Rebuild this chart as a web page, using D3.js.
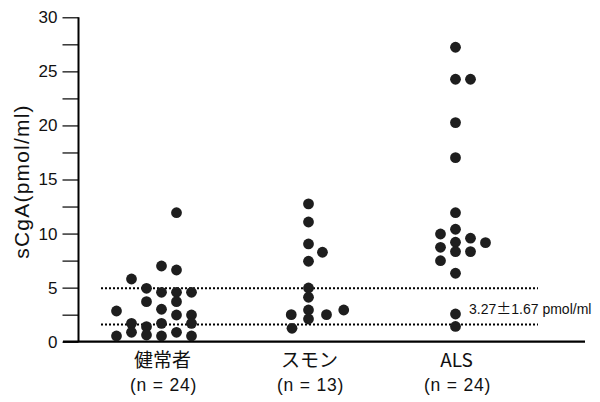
<!DOCTYPE html>
<html><head><meta charset="utf-8">
<script src="https://cdn.jsdelivr.net/npm/d3@7"></script>
<style>body{margin:0;background:#fff}svg{display:block}</style>
</head><body>
<script>
// ---- data ----
const categories = ["健常者", "スモン", "ALS"];
const groupN = ["(n = 24)", "(n = 13)", "(n = 24)"];
const healthyValues = [11.93, 7.00, 6.63, 5.80, 4.94, 4.57, 4.57, 4.57, 3.70, 3.70, 2.84, 3.00, 2.47, 2.47, 1.70, 1.39, 1.70, 1.70, 0.87, 0.62, 0.87, 0.53, 0.53, 0.53];
const healthyCols   = [1, 0, 1, -2, -1, 0, 1, 2, -1, 1, -3, 0, 1, 2, -2, -1, 0, 2, -2, -1, 1, -3, 0, 2];
const smonValues = [12.74, 11.07, 9.04, 8.27, 7.44, 4.97, 4.11, 2.93, 2.10, 2.50, 2.50, 2.93, 1.24];
const smonCols   = [0, 0, 0, 0.93, 0, 0, 0, 0, 0, -1.15, 1.2, 2.35, -1.1];
const alsValues = [27.23, 24.27, 24.27, 20.26, 17.02, 11.93, 10.40, 9.96, 9.57, 9.20, 9.16, 8.73, 8.33, 8.33, 7.49, 6.33, 2.56, 1.41];
const alsCols   = [0, 0, 1, 0, 0, 0, 0, -1, 1, 0, 2, -1, 0, 1, -1, 0, 0, 0];
const yTicks = [0, 5, 10, 15, 20, 25, 30];
const yMinorTicks = [2.5, 7.5, 12.5, 17.5, 22.5, 27.5];
const normalMean = 3.27, normalSD = 1.67;
const normalLabelParts = ["3.27", "±", "1.67 pmol/ml"];
const yTitle = "sCgA(pmol/ml)";

const groups = [
  {cat: categories[0], values: healthyValues, cols: healthyCols},
  {cat: categories[1], values: smonValues, cols: smonCols},
  {cat: categories[2], values: alsValues, cols: alsCols}
];

// ---- layout ----
const W = 600, H = 402;
const svg = d3.select("body").append("svg").attr("width", W).attr("height", H);
const font = "'Liberation Sans', Arial, sans-serif";
const cjk = "'Noto Sans CJK JP', 'Liberation Sans', sans-serif";

const y = d3.scaleLinear().domain([0, 30]).range([341.7, 17.3]);
const x = d3.scalePoint().domain(categories).range([161.5, 455.5]);
const colX = d3.scaleLinear().domain([0, 1]).range([0, 15]);
const axisX = 78.5;

// y axis
const yAxis = d3.axisLeft(y).tickValues(yTicks).tickSize(16).tickPadding(5).tickFormat(d3.format("d"));
const gy = svg.append("g").attr("transform", `translate(${axisX},0)`).call(yAxis);
gy.select(".domain").remove();
gy.selectAll(".tick line").attr("stroke", "#000").attr("stroke-width", 1.2);
gy.selectAll(".tick text").attr("font-family", font).attr("font-size", 17).attr("fill", "#111");
svg.append("g").attr("transform", `translate(${axisX},0)`)
  .call(d3.axisLeft(y).tickValues(yMinorTicks).tickSize(16).tickFormat(""))
  .call(g => g.select(".domain").remove())
  .selectAll(".tick line").attr("stroke", "#000").attr("stroke-width", 1.2);
svg.append("line").attr("x1", axisX).attr("x2", axisX).attr("y1", y(30)).attr("y2", y(0))
  .attr("stroke", "#000").attr("stroke-width", 2);
svg.append("line").attr("x1", 63).attr("x2", 585).attr("y1", y(0)).attr("y2", y(0))
  .attr("stroke", "#000").attr("stroke-width", 2.2);

// y title
svg.append("text").attr("transform", `translate(29,${(y(30)+y(0))/2 + 2}) rotate(-90)`)
  .attr("text-anchor", "middle").attr("font-family", font).attr("font-size", 21)
  .attr("letter-spacing", 1.2).attr("fill", "#111").text(yTitle);

// normal range dotted lines
[normalMean + normalSD, normalMean - normalSD].forEach(v => {
  svg.append("line").attr("x1", 101).attr("x2", 538).attr("y1", y(v)).attr("y2", y(v))
    .attr("stroke", "#000").attr("stroke-width", 2).attr("stroke-dasharray", "2,2");
});
const nl = svg.append("text").attr("x", 469).attr("y", y(normalMean) + 8).attr("font-family", font)
  .attr("font-size", 14).attr("fill", "#111");
nl.append("tspan").text(normalLabelParts[0]);
nl.append("tspan").attr("font-family", cjk).attr("font-size", 15).text(normalLabelParts[1]);
nl.append("tspan").text(normalLabelParts[2]);

// dots
groups.forEach(g => {
  svg.append("g").selectAll("circle").data(g.values).join("circle")
    .attr("cx", (d, i) => x(g.cat) + colX(g.cols[i]))
    .attr("cy", d => y(d))
    .attr("r", 5.4)
    .attr("fill", "#1e1e1e");
});

// category labels
categories.forEach((c, i) => {
  svg.append("text").attr("x", x(c) + 1).attr("y", 367).attr("text-anchor", "middle")
    .attr("font-family", cjk).attr("font-size", 19).attr("fill", "#111").text(c);
  svg.append("text").attr("x", x(c) + 2).attr("y", 391).attr("text-anchor", "middle")
    .attr("font-family", font).attr("font-size", 17.5).attr("letter-spacing", 0.8)
    .attr("fill", "#111").text(groupN[i]);
});
</script>
</body></html>
